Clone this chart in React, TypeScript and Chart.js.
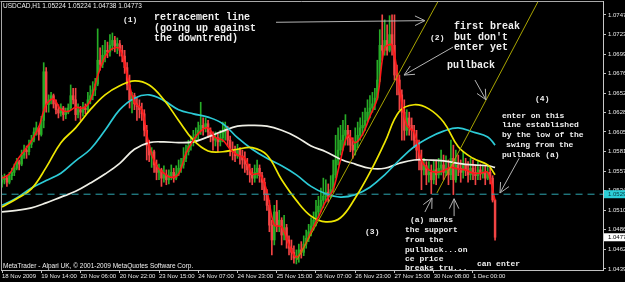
import React, { useEffect, useRef } from "react";
import { Chart, registerables } from "chart.js";
Chart.register(...registerables);

const symbol = "USDCAD,H1";

const opens = [
  1.0544, 1.0547, 1.0549, 1.0544, 1.0552, 1.0556, 1.0561, 1.0569, 1.0566, 1.0577,
  1.0583, 1.0581, 1.0590, 1.0595, 1.0605, 1.0610, 1.0602, 1.0619, 1.0678, 1.0638,
  1.0644, 1.0649, 1.0639, 1.0632, 1.0628, 1.0634, 1.0626, 1.0629, 1.0634, 1.0649,
  1.0644, 1.0626, 1.0632, 1.0629, 1.0634, 1.0632, 1.0644, 1.0649, 1.0656, 1.0663,
  1.0692, 1.0687, 1.0698, 1.0704, 1.0702, 1.0710, 1.0716, 1.0709, 1.0712, 1.0704,
  1.0697, 1.0683, 1.0662, 1.0644, 1.0649, 1.0639, 1.0636, 1.0632, 1.0627, 1.0607,
  1.0589, 1.0577, 1.0581, 1.0565, 1.0556, 1.0559, 1.0549, 1.0553, 1.0547, 1.0552,
  1.0556, 1.0549, 1.0554, 1.0561, 1.0565, 1.0573, 1.0581, 1.0588, 1.0593, 1.0598,
  1.0602, 1.0607, 1.0613, 1.0610, 1.0615, 1.0605, 1.0600, 1.0595, 1.0598, 1.0593,
  1.0598, 1.0605, 1.0610, 1.0595, 1.0583, 1.0581, 1.0576, 1.0583, 1.0576, 1.0571,
  1.0566, 1.0559, 1.0553, 1.0549, 1.0556, 1.0561, 1.0552, 1.0544, 1.0529, 1.0516,
  1.0492, 1.0474, 1.0508, 1.0492, 1.0498, 1.0480, 1.0489, 1.0474, 1.0464, 1.0459,
  1.0452, 1.0455, 1.0462, 1.0459, 1.0469, 1.0476, 1.0484, 1.0491, 1.0498, 1.0508,
  1.0515, 1.0522, 1.0527, 1.0532, 1.0527, 1.0535, 1.0553, 1.0571, 1.0583, 1.0595,
  1.0601, 1.0607, 1.0598, 1.0589, 1.0583, 1.0593, 1.0601, 1.0610, 1.0613, 1.0619,
  1.0629, 1.0634, 1.0639, 1.0646, 1.0668, 1.0710, 1.0704, 1.0716, 1.0704, 1.0723,
  1.0710, 1.0674, 1.0668, 1.0650, 1.0629, 1.0607, 1.0622, 1.0613, 1.0607, 1.0595,
  1.0583, 1.0571, 1.0559, 1.0564, 1.0553, 1.0556, 1.0547, 1.0559, 1.0553, 1.0561,
  1.0565, 1.0556, 1.0561, 1.0553, 1.0573, 1.0547, 1.0565, 1.0561, 1.0556, 1.0565,
  1.0559, 1.0553, 1.0561, 1.0556, 1.0552, 1.0559, 1.0554, 1.0556, 1.0549, 1.0556,
  1.0549, 1.05224,
];

const highs = [
  1.0552, 1.0554, 1.0552, 1.0556, 1.0561, 1.0566, 1.0573, 1.0571, 1.0583, 1.0589,
  1.0588, 1.0595, 1.0601, 1.0610, 1.0617, 1.0612, 1.0624, 1.0689, 1.0683, 1.0650,
  1.0653, 1.0651, 1.0644, 1.0638, 1.0639, 1.0636, 1.0634, 1.0639, 1.0662, 1.0658,
  1.0658, 1.0639, 1.0636, 1.0641, 1.0639, 1.0653, 1.0661, 1.0666, 1.0670, 1.0730,
  1.0707, 1.0710, 1.0716, 1.0714, 1.0723, 1.0725, 1.0721, 1.0719, 1.0716, 1.0710,
  1.0704, 1.0689, 1.0674, 1.0653, 1.0652, 1.0646, 1.0644, 1.0640, 1.0632, 1.0613,
  1.0595, 1.0586, 1.0583, 1.0571, 1.0566, 1.0561, 1.0564, 1.0559, 1.0559, 1.0565,
  1.0561, 1.0564, 1.0571, 1.0573, 1.0586, 1.0589, 1.0595, 1.0600, 1.0607, 1.0610,
  1.0617, 1.0641, 1.0622, 1.0622, 1.0619, 1.0610, 1.0605, 1.0605, 1.0602, 1.0607,
  1.0617, 1.0617, 1.0612, 1.0600, 1.0593, 1.0588, 1.0590, 1.0586, 1.0583, 1.0581,
  1.0573, 1.0566, 1.0561, 1.0565, 1.0571, 1.0565, 1.0556, 1.0549, 1.0535, 1.0522,
  1.0498, 1.0516, 1.0522, 1.0510, 1.0501, 1.0504, 1.0493, 1.0479, 1.0474, 1.0467,
  1.0462, 1.0469, 1.0472, 1.0479, 1.0486, 1.0493, 1.0501, 1.0508, 1.0522, 1.0527,
  1.0537, 1.0549, 1.0547, 1.0542, 1.0552, 1.0571, 1.0601, 1.0610, 1.0613, 1.0619,
  1.0626, 1.0613, 1.0607, 1.0598, 1.0610, 1.0617, 1.0622, 1.0629, 1.0634, 1.0644,
  1.0649, 1.0653, 1.0658, 1.0692, 1.0729, 1.0747, 1.0741, 1.0735, 1.0746, 1.0747,
  1.0747, 1.0686, 1.0674, 1.0656, 1.0644, 1.0632, 1.0629, 1.0622, 1.0613, 1.0607,
  1.0595, 1.0583, 1.0573, 1.0569, 1.0569, 1.0565, 1.0571, 1.0571, 1.0573, 1.0583,
  1.0577, 1.0576, 1.0571, 1.0595, 1.0589, 1.0583, 1.0577, 1.0571, 1.0581, 1.0573,
  1.0569, 1.0573, 1.0571, 1.0565, 1.0569, 1.0566, 1.0565, 1.0564, 1.0565, 1.0561,
  1.0552, 1.05224,
];

const lows = [
  1.0538, 1.0542, 1.0539, 1.0542, 1.0547, 1.0552, 1.0559, 1.0559, 1.0564, 1.0573,
  1.0573, 1.0577, 1.0586, 1.0593, 1.0601, 1.0595, 1.0600, 1.0610, 1.0629, 1.0629,
  1.0639, 1.0634, 1.0627, 1.0622, 1.0624, 1.0619, 1.0621, 1.0627, 1.0632, 1.0639,
  1.0619, 1.0622, 1.0619, 1.0624, 1.0627, 1.0629, 1.0639, 1.0644, 1.0649, 1.0661,
  1.0680, 1.0683, 1.0690, 1.0695, 1.0697, 1.0704, 1.0702, 1.0700, 1.0697, 1.0690,
  1.0676, 1.0656, 1.0634, 1.0628, 1.0632, 1.0619, 1.0622, 1.0619, 1.0600, 1.0571,
  1.0569, 1.0562, 1.0556, 1.0547, 1.0547, 1.0539, 1.0544, 1.0541, 1.0542, 1.0547,
  1.0544, 1.0547, 1.0552, 1.0556, 1.0561, 1.0569, 1.0577, 1.0583, 1.0588, 1.0593,
  1.0595, 1.0602, 1.0601, 1.0605, 1.0598, 1.0593, 1.0583, 1.0588, 1.0581, 1.0588,
  1.0593, 1.0595, 1.0588, 1.0576, 1.0571, 1.0569, 1.0573, 1.0566, 1.0561, 1.0556,
  1.0553, 1.0544, 1.0541, 1.0544, 1.0549, 1.0544, 1.0535, 1.0522, 1.0510, 1.0484,
  1.0456, 1.0468, 1.0484, 1.0484, 1.0468, 1.0474, 1.0464, 1.0456, 1.0450, 1.0446,
  1.0445, 1.0447, 1.0452, 1.0455, 1.0464, 1.0472, 1.0479, 1.0486, 1.0491, 1.0501,
  1.0508, 1.0513, 1.0520, 1.0520, 1.0525, 1.0532, 1.0549, 1.0565, 1.0577, 1.0583,
  1.0589, 1.0589, 1.0581, 1.0573, 1.0577, 1.0586, 1.0595, 1.0601, 1.0607, 1.0617,
  1.0622, 1.0629, 1.0632, 1.0644, 1.0666, 1.0692, 1.0698, 1.0698, 1.0702, 1.0698,
  1.0668, 1.0650, 1.0632, 1.0595, 1.0595, 1.0601, 1.0601, 1.0595, 1.0586, 1.0571,
  1.0559, 1.0535, 1.0553, 1.0541, 1.0544, 1.0530, 1.0542, 1.0541, 1.0549, 1.0553,
  1.0547, 1.0552, 1.0541, 1.0547, 1.0529, 1.0544, 1.0552, 1.0544, 1.0549, 1.0552,
  1.0544, 1.0547, 1.0547, 1.0541, 1.0547, 1.0547, 1.0549, 1.0541, 1.0547, 1.0542,
  1.0520, 1.04738,
];

const closes = [
  1.0547, 1.0549, 1.0544, 1.0552, 1.0556, 1.0561, 1.0569, 1.0566, 1.0577, 1.0583,
  1.0581, 1.0590, 1.0595, 1.0605, 1.0610, 1.0602, 1.0619, 1.0678, 1.0638, 1.0644,
  1.0649, 1.0639, 1.0632, 1.0628, 1.0634, 1.0626, 1.0629, 1.0634, 1.0649, 1.0644,
  1.0626, 1.0632, 1.0629, 1.0634, 1.0632, 1.0644, 1.0649, 1.0656, 1.0663, 1.0692,
  1.0687, 1.0698, 1.0704, 1.0702, 1.0710, 1.0716, 1.0709, 1.0712, 1.0704, 1.0697,
  1.0683, 1.0662, 1.0644, 1.0649, 1.0639, 1.0636, 1.0632, 1.0627, 1.0607, 1.0589,
  1.0577, 1.0581, 1.0565, 1.0556, 1.0559, 1.0549, 1.0553, 1.0547, 1.0552, 1.0556,
  1.0549, 1.0554, 1.0561, 1.0565, 1.0573, 1.0581, 1.0588, 1.0593, 1.0598, 1.0602,
  1.0607, 1.0613, 1.0610, 1.0615, 1.0605, 1.0600, 1.0595, 1.0598, 1.0593, 1.0598,
  1.0605, 1.0610, 1.0595, 1.0583, 1.0581, 1.0576, 1.0583, 1.0576, 1.0571, 1.0566,
  1.0559, 1.0553, 1.0549, 1.0556, 1.0561, 1.0552, 1.0544, 1.0529, 1.0516, 1.0492,
  1.0474, 1.0508, 1.0492, 1.0498, 1.0480, 1.0489, 1.0474, 1.0464, 1.0459, 1.0452,
  1.0455, 1.0462, 1.0459, 1.0469, 1.0476, 1.0484, 1.0491, 1.0498, 1.0508, 1.0515,
  1.0522, 1.0527, 1.0532, 1.0527, 1.0535, 1.0553, 1.0571, 1.0583, 1.0595, 1.0601,
  1.0607, 1.0598, 1.0589, 1.0583, 1.0593, 1.0601, 1.0610, 1.0613, 1.0619, 1.0629,
  1.0634, 1.0639, 1.0646, 1.0668, 1.0710, 1.0704, 1.0716, 1.0704, 1.0723, 1.0710,
  1.0674, 1.0668, 1.0650, 1.0629, 1.0607, 1.0622, 1.0613, 1.0607, 1.0595, 1.0583,
  1.0571, 1.0559, 1.0564, 1.0553, 1.0556, 1.0547, 1.0559, 1.0553, 1.0561, 1.0565,
  1.0556, 1.0561, 1.0553, 1.0573, 1.0547, 1.0565, 1.0561, 1.0556, 1.0565, 1.0559,
  1.0553, 1.0561, 1.0556, 1.0552, 1.0559, 1.0554, 1.0556, 1.0549, 1.0556, 1.0549,
  1.05224, 1.04773,
];

const timeTickIdx = [0, 16, 32, 48, 64, 80, 96, 112, 128, 144, 160, 176, 192];
const timeTickLabels = [
  "18 Nov 2009", "19 Nov 14:00", "20 Nov 06:00", "20 Nov 22:00", "23 Nov 15:00",
  "24 Nov 07:00", "24 Nov 23:00", "25 Nov 15:00", "26 Nov 07:00", "26 Nov 23:00",
  "27 Nov 15:00", "30 Nov 08:00", "1 Dec 00:00",
];
const priceTicks = [
  1.0747, 1.07235, 1.06995, 1.0676, 1.0652, 1.06285, 1.0605, 1.0581, 1.05575,
  1.0534, 1.051, 1.04865, 1.04625, 1.0439,
];

const maIdx = [0, 6, 12, 18, 24, 30, 36, 42, 48, 54, 60, 66, 72, 78, 84, 90, 96, 102, 108, 114,
  120, 126, 132, 138, 144, 150, 156, 162, 168, 174, 180, 186, 192, 198, 201];
const maYellow = [1.0514, 1.0524, 1.0536, 1.0562, 1.0592, 1.0610, 1.0632, 1.0650, 1.0661, 1.0667,
  1.0662, 1.0644, 1.0619, 1.0595, 1.0582, 1.0581, 1.0584, 1.0586, 1.0577, 1.0547,
  1.0522, 1.0503, 1.0496, 1.0501, 1.0525, 1.0556, 1.0592, 1.0630, 1.0638, 1.0633,
  1.0617, 1.0587, 1.0573, 1.0565, 1.0553];
const maCyan = [1.0516, 1.0525, 1.0537, 1.0546, 1.0555, 1.0570, 1.0584, 1.0607, 1.0632, 1.0646,
  1.0650, 1.0643, 1.0632, 1.0627, 1.0623, 1.0615, 1.0598, 1.0584, 1.0573, 1.0564,
  1.0553, 1.0539, 1.0530, 1.0526, 1.0529, 1.0538, 1.0553, 1.0571, 1.0587, 1.0598,
  1.0606, 1.0610, 1.0605, 1.0599, 1.0589];
const maWhite = [1.0508, 1.0510, 1.0513, 1.0519, 1.0526, 1.0533, 1.0543, 1.0554, 1.0567, 1.0584,
  1.0592, 1.0593, 1.0592, 1.0593, 1.0599, 1.0606, 1.0612, 1.0613, 1.0612, 1.0607,
  1.0599, 1.0588, 1.0581, 1.0572, 1.0566, 1.0561, 1.0561, 1.0567, 1.0571, 1.0571,
  1.0570, 1.0567, 1.0565, 1.0564, 1.0562];

const fastIdx = [0, 3, 6, 9, 12, 15, 18, 21, 24, 27, 30, 33, 36, 39, 42, 45, 48, 51, 54, 57,
  60, 63, 66, 69, 72, 75, 78, 81, 84, 87, 90, 93, 96, 99, 102, 105, 108, 111, 114, 117,
  120, 123, 126, 129, 132, 135, 138, 141, 144, 147, 150, 153, 156, 159, 162, 165, 168, 171, 174, 177,
  180, 183, 186, 189, 192, 195, 198, 201];
const maRed = [1.0549, 1.0554, 1.0570, 1.0582, 1.0594, 1.0611, 1.0638, 1.0645, 1.0632, 1.0630,
  1.0635, 1.0634, 1.0643, 1.0673, 1.0696, 1.0706, 1.0706, 1.0674, 1.0641, 1.0632,
  1.0588, 1.0564, 1.0555, 1.0550, 1.0554, 1.0579, 1.0595, 1.0606, 1.0610, 1.0598,
  1.0595, 1.0584, 1.0577, 1.0573, 1.0554, 1.0554, 1.0533, 1.0492, 1.0490, 1.0468,
  1.0453, 1.0465, 1.0484, 1.0502, 1.0521, 1.0535, 1.0571, 1.0601, 1.0592, 1.0602,
  1.0624, 1.0646, 1.0707, 1.0710, 1.0658, 1.0613, 1.0605, 1.0571, 1.0559, 1.0556,
  1.0558, 1.0562, 1.0560, 1.0559, 1.0555, 1.0555, 1.0556, 1.0522];

const supportLevel = 1.05295;
const trendAIdx = [120.3, 177.7];
const trendAPrice = [1.045, 1.0763];
const trendBIdx = [177.3, 218.5];
const trendBPrice = [1.0531, 1.0763];

const notes = [
  { t: "(1)", i: 49.3, p: 1.0741, s: 8 },
  { t: "retracement line", i: 62.0, p: 1.0744, s: 10 },
  { t: "(going up against", i: 62.0, p: 1.0731, s: 10 },
  { t: "the downtrend)", i: 62.0, p: 1.0718, s: 10 },
  { t: "(2)", i: 174.5, p: 1.0719, s: 8 },
  { t: "first break", i: 184.3, p: 1.0733, s: 10 },
  { t: "but don't", i: 184.3, p: 1.072, s: 10 },
  { t: "enter yet", i: 184.3, p: 1.0707, s: 10 },
  { t: "pullback", i: 181.4, p: 1.0686, s: 10 },
  { t: "(4)", i: 217.3, p: 1.0645, s: 8 },
  { t: "enter on this", i: 203.8, p: 1.0624, s: 8 },
  { t: "line established", i: 203.8, p: 1.0613, s: 8 },
  { t: "by the low of the", i: 203.8, p: 1.0601, s: 8 },
  { t: "swing from the", i: 205.5, p: 1.0589, s: 8 },
  { t: "pullback (a)", i: 203.8, p: 1.0577, s: 8 },
  { t: "(3)", i: 148.0, p: 1.0484, s: 8 },
  { t: "(a) marks", i: 166.3, p: 1.0498, s: 8 },
  { t: "the support", i: 164.3, p: 1.0486, s: 8 },
  { t: "from the", i: 164.3, p: 1.0474, s: 8 },
  { t: "pullback...on", i: 164.3, p: 1.0462, s: 8 },
  { t: "ce price", i: 164.3, p: 1.0451, s: 8 },
  { t: "breaks tru...", i: 164.3, p: 1.044, s: 8 },
  { t: "can enter", i: 193.6, p: 1.0445, s: 8 },
];

const arrows = [
  { i1: 111.7, p1: 1.0738, i2: 172.4, p2: 1.074 },
  { i1: 183.9, p1: 1.0708, i2: 163.9, p2: 1.0674 },
  { i1: 192.8, p1: 1.0668, i2: 197.3, p2: 1.0644 },
  { i1: 210.8, p1: 1.0573, i2: 203.0, p2: 1.0531 },
  { i1: 172.4, p1: 1.0508, i2: 175.3, p2: 1.0525 },
  { i1: 184.3, p1: 1.0503, i2: 184.3, p2: 1.0524 },
];

const GREEN = "#27ad27";
const RED = "#f24444";

const mtPlugin = {
  id: "mt",
  beforeDraw(chart: any) {
    const { ctx, width, height } = chart;
    ctx.save();
    ctx.fillStyle = "#000";
    ctx.fillRect(0, 0, width, height);
    ctx.restore();
  },
  afterDatasetsDraw(chart: any) {
    const { ctx, chartArea: a, scales } = chart;
    const x = scales.x, y = scales.y;
    ctx.save();
    ctx.beginPath();
    ctx.rect(a.left, a.top, a.right - a.left, a.bottom - a.top);
    ctx.clip();
    // arrows
    ctx.strokeStyle = "#b4b4b4";
    ctx.lineWidth = 1;
    for (const ar of arrows) {
      const x1 = x.getPixelForValue(ar.i1), y1 = y.getPixelForValue(ar.p1);
      const x2 = x.getPixelForValue(ar.i2), y2 = y.getPixelForValue(ar.p2);
      const ang = Math.atan2(y2 - y1, x2 - x1);
      ctx.beginPath();
      ctx.moveTo(x1, y1);
      ctx.lineTo(x2, y2);
      for (const d of [0.45, -0.45]) {
        ctx.moveTo(x2, y2);
        ctx.lineTo(x2 - 11 * Math.cos(ang + d), y2 - 11 * Math.sin(ang + d));
      }
      ctx.stroke();
    }
    // texts
    ctx.fillStyle = "#efefef";
    ctx.textBaseline = "middle";
    ctx.textAlign = "left";
    for (const n of notes) {
      ctx.font = `bold ${n.s}px "Liberation Mono"`;
      ctx.fillText(n.t, x.getPixelForValue(n.i), y.getPixelForValue(n.p));
    }
    ctx.restore();
  },
  afterDraw(chart: any) {
    const { ctx, chartArea: a, scales, width } = chart;
    const y = scales.y;
    ctx.save();
    // frame top / left
    ctx.strokeStyle = "#a8a8a8";
    ctx.lineWidth = 1;
    ctx.beginPath();
    ctx.moveTo(a.left - 0.5, a.top + 0.5);
    ctx.lineTo(a.right, a.top + 0.5);
    ctx.moveTo(a.left - 0.5 + 1, a.top);
    ctx.lineTo(a.left - 0.5 + 1, a.bottom);
    ctx.stroke();
    // title and footer
    ctx.fillStyle = "#f0f0f0";
    ctx.font = '6.5px "Liberation Sans"';
    ctx.textBaseline = "middle";
    const last = closes.length - 1;
    const title = [symbol, opens[last].toFixed(5), highs[last].toFixed(5), lows[last].toFixed(5), closes[last].toFixed(5)].join(" ");
    ctx.fillText(title, a.left + 2, a.top + 5);
    ctx.fillText("MetaTrader - Alpari UK, \u00a9 2001-2009 MetaQuotes Software Corp.", a.left + 2, a.bottom - 4);
    // price boxes
    const boxes = [
      { v: supportLevel, bg: "#2ccfd8", fg: "#0a3a40" },
      { v: closes[last], bg: "#ffffff", fg: "#000000" },
    ];
    ctx.font = '6px "Liberation Sans"';
    for (const b of boxes) {
      const py = y.getPixelForValue(b.v);
      ctx.fillStyle = b.bg;
      ctx.fillRect(a.right + 1, py - 4, width - a.right - 1, 8);
      ctx.fillStyle = b.fg;
      ctx.fillText(b.v.toFixed(5), a.right + 5, py + 0.5);
    }
    ctx.restore();
  },
};

export default function App() {
  const ref = useRef<HTMLCanvasElement>(null);
  useEffect(() => {
    document.body.style.margin = "0";
    document.body.style.background = "#000";
    const canvas = ref.current;
    if (!canvas) return;
    Chart.defaults.font.family = '"Liberation Sans", sans-serif';
    const colors = closes.map((c, i) => (c >= opens[i] ? GREEN : RED));
    const bodies = closes.map((c, i) => ({ x: i, y: [opens[i], c] }));
    const wicks = closes.map((c, i) => ({ x: i, y: [lows[i], highs[i]] }));
    const pts = (idx: number[], vals: number[]) => vals.map((v, k) => ({ x: idx[k], y: v }));
    const line = (label: string, data: any[], color: string, order: number, width = 1.7, tension = 0.4, dash: number[] = []) => ({
      type: "line" as const,
      label,
      data,
      borderColor: color,
      borderWidth: width,
      borderDash: dash,
      pointRadius: 0,
      tension,
      fill: false,
      order,
    });
    const chart = new Chart(canvas, {
      type: "line",
      data: {
        datasets: [
          line("trend A", pts(trendAIdx, trendAPrice), "#a8a400", 0, 1, 0),
          line("trend B", pts(trendBIdx, trendBPrice), "#a8a400", 0, 1, 0),
          line("support", pts([-1, 246], [supportLevel, supportLevel]), "#2ea6b0", 1, 1, 0, [7, 5]),
          line("MA fast", pts(fastIdx, maRed), "#ff1818", 2, 1.6, 0.35),
          line("MA yellow", pts(maIdx, maYellow), "#eee600", 3),
          line("MA cyan", pts(maIdx, maCyan), "#2ccad6", 4),
          line("MA white", pts(maIdx, maWhite), "#efefe6", 5),
          {
            type: "bar" as const,
            label: "body",
            data: bodies as any,
            backgroundColor: colors,
            grouped: false,
            barPercentage: 1,
            categoryPercentage: 1,
            maxBarThickness: 1.8,
            minBarLength: 1,
            order: 6,
          },
          {
            type: "bar" as const,
            label: "wick",
            data: wicks as any,
            backgroundColor: colors,
            grouped: false,
            barPercentage: 1,
            categoryPercentage: 1,
            maxBarThickness: 1,
            order: 7,
          },
        ] as any,
      },
      options: {
        responsive: false,
        animation: false,
        devicePixelRatio: 1,
        events: [],
        layout: { padding: { left: 1, top: 1, right: 0, bottom: 0 } },
        plugins: { legend: { display: false }, tooltip: { enabled: false } },
        scales: {
          x: {
            type: "linear",
            min: -0.41,
            max: 245,
            offset: false,
            position: "bottom",
            afterBuildTicks: (s: any) => {
              s.ticks = timeTickIdx.map((v) => ({ value: v }));
            },
            afterFit: (s: any) => {
              s.height = 12;
              s.paddingLeft = 0;
              s.paddingRight = 0;
            },
            ticks: {
              autoSkip: false,
              maxRotation: 0,
              minRotation: 0,
              align: "start",
              padding: 0,
              color: "#e8e8e8",
              font: { size: 6 },
              callback: (_v: any, i: number) => timeTickLabels[i],
            },
            grid: { display: true, offset: false, drawOnChartArea: false, drawTicks: true, tickLength: 3, tickColor: "#c0c0c0" },
            border: { display: true, color: "#c0c0c0" },
          },
          y: {
            type: "linear",
            position: "right",
            min: 1.04376,
            max: 1.07638,
            afterBuildTicks: (s: any) => {
              s.ticks = priceTicks.map((v) => ({ value: v }));
            },
            afterFit: (s: any) => {
              s.width = 22;
              s.paddingTop = 0;
              s.paddingBottom = 0;
            },
            ticks: {
              autoSkip: false,
              padding: 2,
              color: "#e8e8e8",
              font: { size: 6 },
              callback: (v: any) => Number(v).toFixed(5),
            },
            grid: { display: true, drawOnChartArea: false, drawTicks: true, tickLength: 3, tickColor: "#c0c0c0" },
            border: { display: true, color: "#c8c8c8" },
          },
        },
      } as any,
      plugins: [mtPlugin],
    });
    return () => chart.destroy();
  }, []);
  return (
    <div style={{ position: "fixed", left: 0, top: 0, width: 625, height: 282, background: "#000" }}>
      <canvas ref={ref} width={625} height={282} style={{ display: "block" }} />
    </div>
  );
}
